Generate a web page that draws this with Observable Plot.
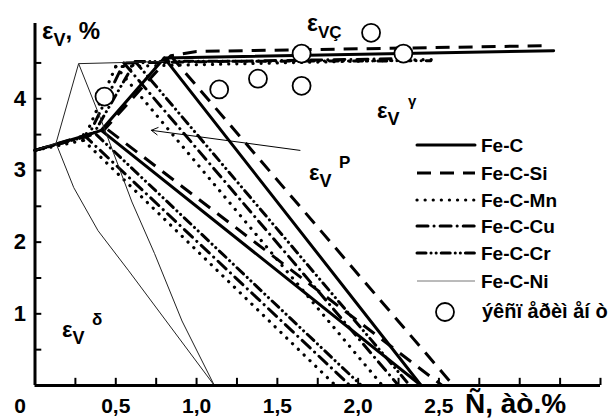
<!DOCTYPE html>
<html><head><meta charset="utf-8">
<script src="https://cdn.jsdelivr.net/npm/d3@7"></script>
<script src="https://cdn.jsdelivr.net/npm/@observablehq/plot@0.6"></script>
<style>
body{margin:0;background:#fff}
svg{font-family:"Liberation Sans",Arial,sans-serif;font-weight:bold;}
</style>
</head><body><div id="chart"></div>
<script>
// ---- data ----
const alloys = ["Fe-C","Fe-C-Si","Fe-C-Mn","Fe-C-Cu","Fe-C-Cr","Fe-C-Ni"];

const feC_curve = [[0,3.28],[0.33,3.50],[0.41,3.56],[0.80,4.57],[3.21,4.67]];
const feC_up    = [[0.80,4.57],[2.39,0]];
const feC_low   = [[0.41,3.56],[2.39,0]];

const si_curve = [[0,3.28],[0.43,3.57],[0.84,4.60],[1.00,4.66],[3.16,4.74]];
const si_up    = [[0.84,4.60],[2.59,0]];
const si_low   = [[0.45,3.57],[2.52,0]];

const mn_curve = [[0,3.28],[0.30,3.42],[0.50,4.45],[2.50,4.55]];
const mn_up    = [[0.50,4.45],[2.15,0]];
const mn_low   = [[0.30,3.42],[1.86,0]];

const cu_curve = [[0,3.28],[0.33,3.48],[0.55,4.50],[2.30,4.56]];
const cu_up    = [[0.55,4.50],[2.25,0]];
const cu_low   = [[0.30,3.50],[1.95,0]];

const cr_curve = [[0,3.28],[0.36,3.50],[0.62,4.52],[2.45,4.53]];
const cr_up    = [[0.62,4.52],[2.32,0]];
const cr_low   = [[0.38,3.50],[2.02,0]];

const ni_curve = [[0,3.28],[0.13,3.38],[0.27,4.49],[0.80,4.52]];
const ni_up    = [[0.27,4.49],[0.41,3.70],[0.60,2.56],[0.74,1.84],[0.91,0.90],[1.11,0]];
const ni_low   = [[0.13,3.38],[0.24,2.76],[0.39,2.16],[0.58,1.60],[1.11,0]];

const expX = [0.43,1.14,1.38,1.65,1.65,2.08,2.28];
const expY = [4.03,4.13,4.28,4.18,4.63,4.92,4.63];

const arrowFrom = [1.64,3.28];
const arrowTo   = [0.72,3.56];

const xTickVals = [0.25,0.5,0.75,1,1.25,1.5,1.75,2,2.25,2.5,2.75,3,3.25,3.5];
const xLabelVals = [0.5,1,1.5,2,2.5];
const xLabelText = ["0,5","1,0","1,5","2,0","2,5"];
const yTickVals = [0.5,1,1.5,2,2.5,3,3.5,4,4.5];
const yLabelVals = [1,2,3,4];
const yLabelText = ["1","2","3","4"];

// ---- build tables ----
const segs = {
  "Fe-C":[["curve",feC_curve],["up",feC_up],["low",feC_low]],
  "Fe-C-Si":[["curve",si_curve],["up",si_up],["low",si_low]],
  "Fe-C-Mn":[["curve",mn_curve],["up",mn_up],["low",mn_low]],
  "Fe-C-Cu":[["curve",cu_curve],["up",cu_up],["low",cu_low]],
  "Fe-C-Cr":[["curve",cr_curve],["up",cr_up],["low",cr_low]],
  "Fe-C-Ni":[["curve",ni_curve],["up",ni_up],["low",ni_low]]
};
const rows = [];
for (const a of alloys) for (const [s,pts] of segs[a]) for (const [x,y] of pts) rows.push({alloy:a, seg:s, x, y});

const styles = {
  "Fe-C":   {strokeWidth:3,   strokeDasharray:null, strokeLinecap:"round"},
  "Fe-C-Si":{strokeWidth:3,   strokeDasharray:"14,9", strokeLinecap:"butt"},
  "Fe-C-Mn":{strokeWidth:3.2, strokeDasharray:"0.1,8", strokeLinecap:"round"},
  "Fe-C-Cu":{strokeWidth:3,   strokeDasharray:"11,6,0.1,6", strokeLinecap:"round"},
  "Fe-C-Cr":{strokeWidth:3,   strokeDasharray:"9,5,0.1,5,0.1,5", strokeLinecap:"round"},
  "Fe-C-Ni":{strokeWidth:1,   strokeDasharray:null, strokeLinecap:"butt", stroke:"#222"}
};

const exp = expX.map((x,i)=>({x, y:expY[i]}));

const marks = [];
for (const a of alloys) {
  const st = styles[a];
  marks.push(Plot.line(rows.filter(d=>d.alloy===a), {
    x:"x", y:"y", z:"seg", stroke: st.stroke || "black",
    strokeWidth: st.strokeWidth, strokeDasharray: st.strokeDasharray,
    strokeLinecap: st.strokeLinecap, strokeLinejoin:"round"
  }));
}
marks.push(Plot.arrow([{x1:arrowFrom[0],y1:arrowFrom[1],x2:arrowTo[0],y2:arrowTo[1]}],
  {x1:"x1",y1:"y1",x2:"x2",y2:"y2",stroke:"black",strokeWidth:1,headLength:11}));
marks.push(Plot.dot(exp,{x:"x",y:"y",r:9,fill:"white",stroke:"black",strokeWidth:1.8}));
// axes
marks.push(Plot.ruleX(xTickVals,{y1:0,y2:0.1,stroke:"black",strokeWidth:2}));
marks.push(Plot.ruleY(yTickVals,{x1:0,x2:0.042,stroke:"black",strokeWidth:2}));
marks.push(Plot.ruleY([0],{stroke:"black",strokeWidth:3}));
marks.push(Plot.ruleX([0],{stroke:"black",strokeWidth:3}));
marks.push(Plot.text(xLabelVals,{x:d=>d,y:0,dy:21,text:(d,i)=>xLabelText[i],fontSize:21,fontWeight:"bold",fill:"black"}));
marks.push(Plot.text([0],{x:0,y:0,dx:-15,dy:21,text:()=>"0",fontSize:21,fontWeight:"bold",fill:"black"}));
marks.push(Plot.text(yLabelVals,{x:0,y:d=>d,dx:-9,text:(d,i)=>yLabelText[i],textAnchor:"end",fontSize:22,fontWeight:"bold",fill:"black"}));

const chart = Plot.plot({
  width:616, height:419,
  marginLeft:34.5, marginRight:16, marginTop:23, marginBottom:34,
  x:{domain:[0,3.5], axis:null},
  y:{domain:[0,5.05], axis:null},
  style:{background:"white", fontFamily:"Liberation Sans, Arial, sans-serif"},
  marks
});
document.getElementById("chart").appendChild(chart);

// ---- annotations & legend (pixel layout) ----
const svg = d3.select(chart);
const g = svg.append("g").attr("fill","black").attr("font-weight","bold").attr("text-anchor","start");

function eps(x, y, sub, sup, size, subSize, supSize, supDx) {
  const t = g.append("text").attr("x",x).attr("y",y).attr("font-size",size);
  t.append("tspan").text("ε");
  if (sub) t.append("tspan").attr("font-size",subSize).attr("dy",7).text(sub);
  if (sup) g.append("text").attr("x",x+supDx).attr("y",y-12).attr("font-size",supSize).text(sup);
  return t;
}
// Y title
const yt = g.append("text").attr("x",42).attr("y",39).attr("font-size",24);
yt.append("tspan").text("ε");
yt.append("tspan").attr("font-size",18).attr("dy",7).text("V");
yt.append("tspan").attr("font-size",24).attr("dy",-7).text(", %");
// X title
g.append("text").attr("x",465).attr("y",413).attr("font-size",28).text("Ñ, àò.%");

eps(307,31,"VÇ",null,23,17);
eps(377,118,"V","γ",22,18,15,31);
eps(309,180,"V","P",22,18,17,30);
eps(62,337,"V","δ",22,18,17,30);

// legend
const legY = [145,173,200,226,253,281];
alloys.forEach((a,i)=>{
  const st = styles[a];
  g.append("line").attr("x1",417).attr("x2",475).attr("y1",legY[i]).attr("y2",legY[i])
    .attr("stroke", a==="Fe-C-Ni" ? "#777" : "black")
    .attr("stroke-width", st.strokeWidth)
    .attr("stroke-dasharray", st.strokeDasharray)
    .attr("stroke-linecap", st.strokeLinecap);
  g.append("text").attr("x",481).attr("y",legY[i]+7).attr("font-size",19).text(a);
});
g.append("circle").attr("cx",445).attr("cy",312).attr("r",9).attr("fill","white").attr("stroke","black").attr("stroke-width",1.8);
g.append("text").attr("x",482).attr("y",318).attr("font-size",20).text("ýêñï åðèì åí ò");
</script>
</body></html>
